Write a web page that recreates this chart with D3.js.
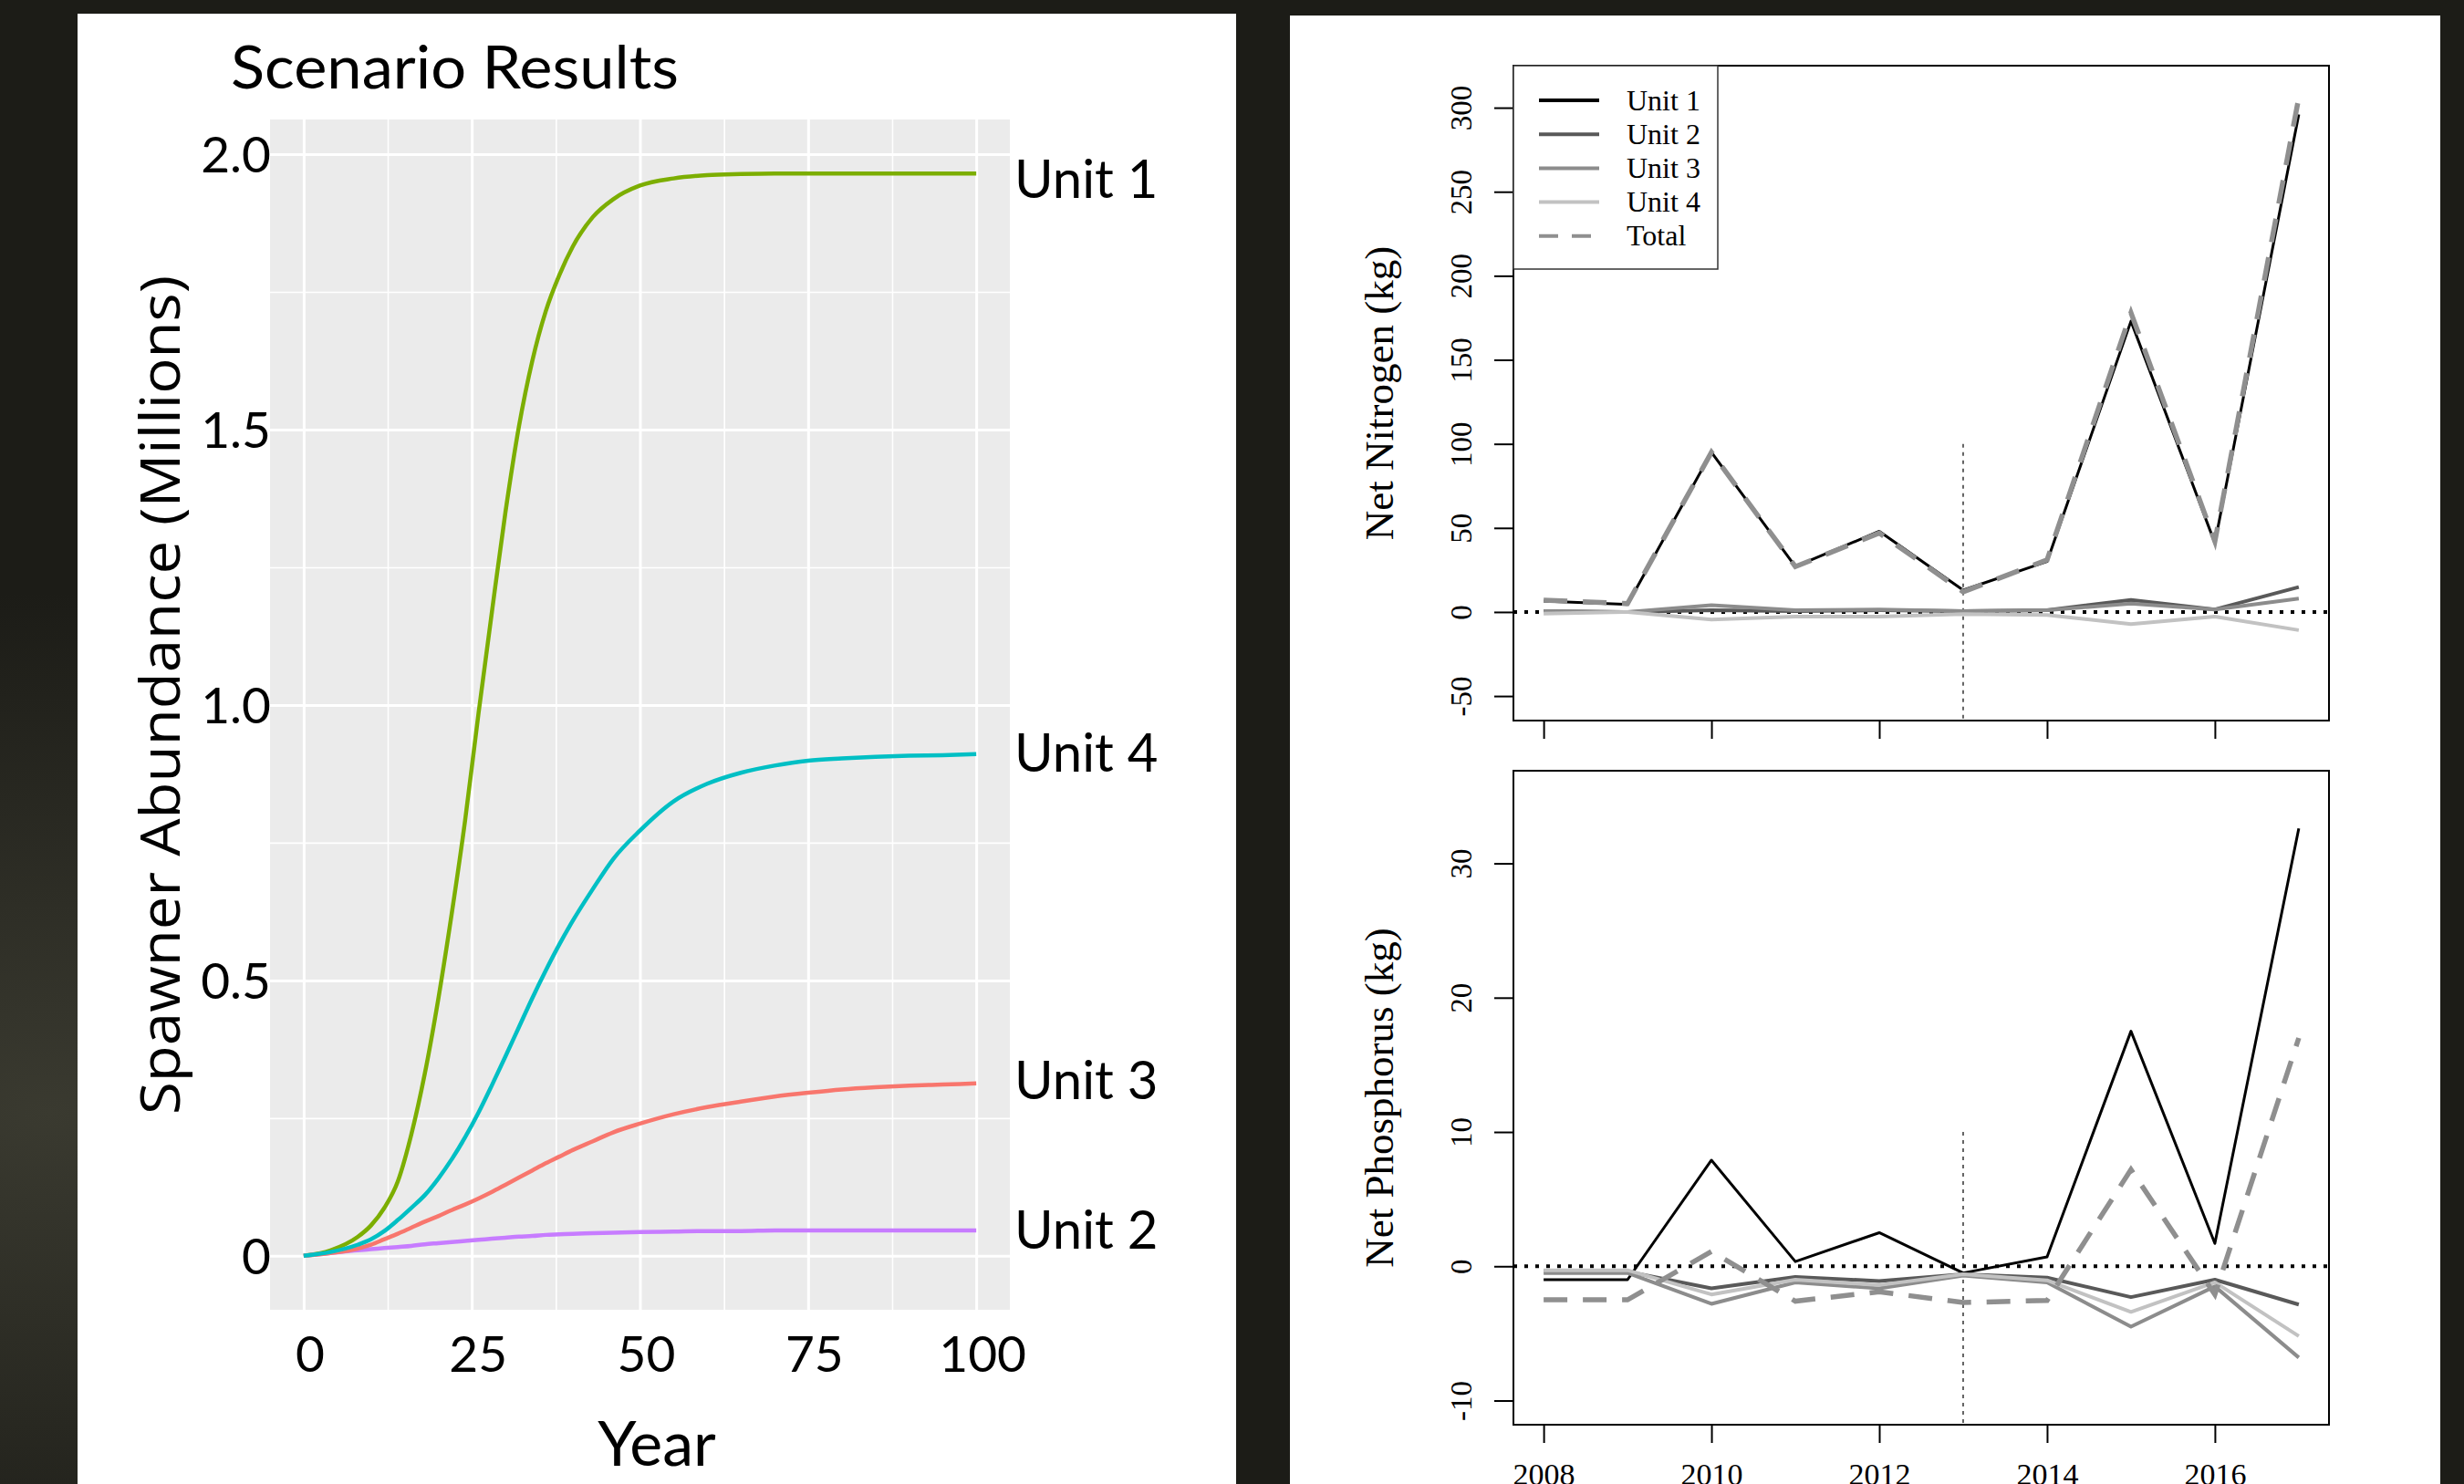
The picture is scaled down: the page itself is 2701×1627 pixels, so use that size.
<!DOCTYPE html>
<html>
<head>
<meta charset="utf-8">
<script src="https://cdn.jsdelivr.net/npm/d3@7"></script>
<style>
  html, body { margin: 0; padding: 0; background: #1c1c17; overflow: hidden; }
  svg { display: block; }
</style>
</head>
<body>
<svg id="chart" width="2701" height="1627"></svg>
<script>
// ---------- data: scenario results (left) ----------
const simYears = [0, 4, 8, 10, 12, 14, 16, 18, 20, 22, 24, 26, 28, 30, 32, 34, 36, 38, 40, 43, 46, 50, 55, 60, 65, 70, 75, 80, 85, 90, 95, 100];
const unit1Abund = [0, 0.01, 0.034, 0.055, 0.087, 0.135, 0.22, 0.33, 0.465, 0.62, 0.79, 0.985, 1.17, 1.35, 1.505, 1.625, 1.715, 1.78, 1.832, 1.886, 1.918, 1.943, 1.956, 1.962, 1.964, 1.965, 1.965, 1.965, 1.965, 1.965, 1.965, 1.965];
const unit2Abund = [0, 0.005, 0.01, 0.012, 0.014, 0.016, 0.018, 0.021, 0.023, 0.025, 0.027, 0.029, 0.031, 0.033, 0.035, 0.036, 0.038, 0.039, 0.04, 0.041, 0.042, 0.043, 0.044, 0.045, 0.045, 0.046, 0.046, 0.046, 0.046, 0.046, 0.046, 0.046];
const unit3Abund = [0, 0.005, 0.013, 0.02, 0.03, 0.04, 0.051, 0.062, 0.072, 0.083, 0.093, 0.104, 0.116, 0.129, 0.142, 0.155, 0.168, 0.18, 0.192, 0.208, 0.224, 0.24, 0.257, 0.27, 0.28, 0.289, 0.296, 0.302, 0.306, 0.309, 0.311, 0.313];
const unit4Abund = [0, 0.007, 0.02, 0.03, 0.045, 0.065, 0.087, 0.11, 0.14, 0.175, 0.215, 0.26, 0.31, 0.362, 0.415, 0.468, 0.518, 0.565, 0.608, 0.666, 0.72, 0.772, 0.825, 0.857, 0.877, 0.89, 0.899, 0.903, 0.906, 0.908, 0.909, 0.911];
const unitNames = ["Unit 1", "Unit 2", "Unit 3", "Unit 4"];
const unitColors = ["#7CAE00", "#C77CFF", "#F8766D", "#00BFC4"];
const xMajor = [0, 25, 50, 75, 100];
const xMinor = [12.5, 37.5, 62.5, 87.5];
const yMajor = [0, 0.5, 1.0, 1.5, 2.0];
const yMajorLabels = ["0", "0.5", "1.0", "1.5", "2.0"];
const yMinor = [0.25, 0.75, 1.25, 1.75];

// ---------- data: nutrient budgets (right) ----------
const budgetYears = [2008, 2009, 2010, 2011, 2012, 2013, 2014, 2015, 2016, 2017];
const nitroUnit1 = [6.5, 4.5, 95, 27, 48, 13, 30, 173, 41, 296];
const nitroUnit2 = [0.5, 0, 1, 0.5, 1, 0.5, 1, 7.2, 1.5, 14.8];
const nitroUnit3 = [0.5, 0, 4, 1, 1.5, 0.5, 1, 5, 1.5, 8];
const nitroUnit4 = [-1, 0, -4.5, -2.7, -2.7, -1.3, -1.8, -7.2, -2.7, -10.8];
const nitroTotal = [7, 5, 95, 27, 47, 12, 31, 178, 42, 306];
const phosUnit1 = [-1.0, -1.0, 7.9, 0.35, 2.5, -0.5, 0.7, 17.5, 1.7, 32.6];
const phosUnit2 = [-0.35, -0.4, -1.65, -0.8, -1.1, -0.6, -0.85, -2.3, -1.0, -2.85];
const phosUnit3 = [-0.5, -0.5, -2.8, -1.2, -1.65, -0.7, -1.2, -4.5, -1.5, -6.8];
const phosUnit4 = [-0.3, -0.3, -2.1, -1.0, -1.4, -0.6, -1.05, -3.4, -1.2, -5.2];
const phosTotal = [-2.5, -2.5, 1.1, -2.6, -1.9, -2.7, -2.55, 7.2, -2.1, 17.0];
const legendNames = ["Unit 1", "Unit 2", "Unit 3", "Unit 4", "Total"];
const nitroTicks = [-50, 0, 50, 100, 150, 200, 250, 300];
const phosTicks = [-10, 0, 10, 20, 30];
const yearTicks = [2008, 2010, 2012, 2014, 2016];

const svg = d3.select("#chart");
const W = 2701, H = 1627;

// dark slide background + white panels
const defs = svg.append("defs");
const glow = defs.append("radialGradient").attr("id", "glow").attr("cx", "0.02").attr("cy", "0.75").attr("r", "0.35");
glow.append("stop").attr("offset", "0").attr("stop-color", "#3a3a30");
glow.append("stop").attr("offset", "1").attr("stop-color", "#1c1c17");
svg.append("rect").attr("width", W).attr("height", H).attr("fill", "url(#glow)");
svg.append("rect").attr("x", 85).attr("y", 15).attr("width", 1270).attr("height", 1640).attr("fill", "#fff");
svg.append("rect").attr("x", 1414).attr("y", 17).attr("width", 1261).attr("height", 1640).attr("fill", "#fff");

// ================= left: Scenario Results =================
const pl = { x0: 296, x1: 1107, y0: 131, y1: 1436 };
const xL = d3.scaleLinear().domain([-5, 105]).range([pl.x0, pl.x1]);
const yL = d3.scaleLinear().domain([-0.098, 2.063]).range([pl.y1, pl.y0]);
const L = svg.append("g").style("font-family", "Lato, 'Open Sans', sans-serif");

L.append("rect")
  .attr("x", pl.x0).attr("y", pl.y0)
  .attr("width", pl.x1 - pl.x0).attr("height", pl.y1 - pl.y0)
  .attr("fill", "#EBEBEB");

function grid(axis, transform, width) {
  L.append("g")
    .attr("transform", transform)
    .call(axis.tickFormat("").tickSizeOuter(0))
    .call(g => g.select(".domain").remove())
    .selectAll("line").attr("stroke", "#fff").attr("stroke-width", width);
}
grid(d3.axisBottom(xL).tickValues(xMinor).tickSize(-(pl.y1 - pl.y0)), `translate(0,${pl.y1})`, 1.6);
grid(d3.axisLeft(yL).tickValues(yMinor).tickSize(-(pl.x1 - pl.x0)), `translate(${pl.x0},0)`, 1.6);
grid(d3.axisBottom(xL).tickValues(xMajor).tickSize(-(pl.y1 - pl.y0)), `translate(0,${pl.y1})`, 3);
grid(d3.axisLeft(yL).tickValues(yMajor).tickSize(-(pl.x1 - pl.x0)), `translate(${pl.x0},0)`, 3);

const seriesL = [unit1Abund, unit2Abund, unit3Abund, unit4Abund];
const labelShift = [7, 0, -3, 0];
const lineL = d3.line().x(d => xL(d[0])).y(d => yL(d[1])).curve(d3.curveMonotoneX);
seriesL.forEach((vals, i) => {
  L.append("path")
    .datum(simYears.map((yr, k) => [yr, vals[k]]))
    .attr("d", lineL)
    .attr("fill", "none")
    .attr("stroke", unitColors[i])
    .attr("stroke-width", 4.5);
  L.append("text")
    .attr("x", pl.x1 + 5)
    .attr("y", yL(vals[vals.length - 1]) + labelShift[i])
    .attr("dy", "0.34em")
    .attr("font-size", 58)
    .attr("fill", "#000")
    .text(unitNames[i]);
});

// axis labels
L.selectAll(".ylab").data(yMajor).enter().append("text")
  .attr("x", pl.x0 + 1)
  .attr("y", d => yL(d))
  .attr("dy", "0.36em")
  .attr("text-anchor", "end")
  .attr("font-size", 55)
  .text((d, i) => yMajorLabels[i]);
L.selectAll(".xlab").data(xMajor).enter().append("text")
  .attr("x", d => xL(d) + 7)
  .attr("y", 1504)
  .attr("text-anchor", "middle")
  .attr("font-size", 55)
  .text(d => d);

L.append("text")
  .attr("x", 253).attr("y", 97)
  .attr("font-size", 66)
  .attr("textLength", 491).attr("lengthAdjust", "spacingAndGlyphs")
  .text("Scenario Results");
L.append("text")
  .attr("x", 720).attr("y", 1607)
  .attr("text-anchor", "middle")
  .attr("font-size", 68)
  .text("Year");
L.append("text")
  .attr("transform", "translate(197,762) rotate(-90)")
  .attr("text-anchor", "middle")
  .attr("font-size", 60)
  .style("font-family", "'Open Sans', sans-serif")
  .attr("textLength", 920).attr("lengthAdjust", "spacingAndGlyphs")
  .text("Spawner Abundance (Millions)");

// ================= right: nutrient plots =================
const bx = { x0: 1659, x1: 2553 };
const xR = d3.scaleLinear().domain([2007.64, 2017.36]).range([bx.x0, bx.x1]);
const R = svg.append("g").style("font-family", "'Liberation Serif', 'Times New Roman', serif");
const grays = ["#000000", "#595959", "#8c8c8c", "#c2c2c2"];
const widths = [3, 4, 4, 4];

function budgetPlot(yScale, top, bottom, ticks, title, units, total, vlineTop, showYears) {
  const g = R.append("g");
  const clipId = "clip" + top;
  defs.append("clipPath").attr("id", clipId).append("rect")
    .attr("x", bx.x0).attr("y", top).attr("width", bx.x1 - bx.x0).attr("height", bottom - top);
  const inner = g.append("g").attr("clip-path", `url(#${clipId})`);

  // zero reference and 2013 marker
  inner.append("line")
    .attr("x1", bx.x0).attr("x2", bx.x1)
    .attr("y1", yScale(0)).attr("y2", yScale(0))
    .attr("stroke", "#000").attr("stroke-width", 4).attr("stroke-dasharray", "4 8");
  inner.append("line")
    .attr("x1", xR(2013)).attr("x2", xR(2013))
    .attr("y1", yScale(vlineTop)).attr("y2", bottom)
    .attr("stroke", "#333").attr("stroke-width", 1.5).attr("stroke-dasharray", "4 5");

  const line = d3.line().x((d, i) => xR(budgetYears[i])).y(d => yScale(d));
  units.forEach((vals, i) => {
    inner.append("path").datum(vals).attr("d", line)
      .attr("fill", "none").attr("stroke", grays[i]).attr("stroke-width", widths[i])
      .attr("stroke-linejoin", "round");
  });
  inner.append("path").datum(total).attr("d", line)
    .attr("fill", "none").attr("stroke", "#8f8f8f").attr("stroke-width", 5.5)
    .attr("stroke-dasharray", "26 17");

  // box
  g.append("rect")
    .attr("x", bx.x0).attr("y", top).attr("width", bx.x1 - bx.x0).attr("height", bottom - top)
    .attr("fill", "none").attr("stroke", "#000").attr("stroke-width", 2);

  // y axis
  g.append("g")
    .attr("transform", `translate(${bx.x0},0)`)
    .call(d3.axisLeft(yScale).tickValues(ticks).tickSize(21).tickSizeOuter(0).tickFormat(d => String(d)))
    .call(a => a.select(".domain").remove())
    .call(a => a.selectAll("line").attr("stroke", "#000").attr("stroke-width", 2))
    .call(a => a.selectAll("text")
      .attr("x", null).attr("dy", "0.33em")
      .attr("text-anchor", "middle")
      .attr("transform", "translate(-57,0) rotate(-90)")
      .attr("fill", "#000")
      .style("font-size", "33px")
      .style("font-family", "'Liberation Serif', serif"));

  // x axis
  g.append("g")
    .attr("transform", `translate(0,${bottom})`)
    .call(d3.axisBottom(xR).tickValues(yearTicks).tickSize(20).tickPadding(22).tickSizeOuter(0)
      .tickFormat(showYears ? d => String(d) : ""))
    .call(a => a.select(".domain").remove())
    .call(a => a.selectAll("line").attr("stroke", "#000").attr("stroke-width", 2))
    .call(a => a.selectAll("text").attr("fill", "#000")
      .style("font-size", "34px").style("font-family", "'Liberation Serif', serif"));

  g.append("text")
    .attr("transform", `translate(1527,${(top + bottom) / 2}) rotate(-90)`)
    .attr("text-anchor", "middle")
    .attr("font-size", 45)
    .text(title);
  return g;
}

const yN = d3.scaleLinear().domain([-64.6, 325]).range([790, 72]);
const yP = d3.scaleLinear().domain([-11.8, 36.9]).range([1562, 845]);
const topPlot = budgetPlot(yN, 72, 790, nitroTicks, "Net Nitrogen (kg)",
  [nitroUnit1, nitroUnit2, nitroUnit3, nitroUnit4], nitroTotal, 100, false);
budgetPlot(yP, 845, 1562, phosTicks, "Net Phosphorus (kg)",
  [phosUnit1, phosUnit2, phosUnit3, phosUnit4], phosTotal, 10, true);

// legend (top plot)
const lg = topPlot.append("g");
lg.append("rect")
  .attr("x", bx.x0).attr("y", 72).attr("width", 224).attr("height", 223)
  .attr("fill", "#fff").attr("stroke", "#333").attr("stroke-width", 1.5);
legendNames.forEach((name, i) => {
  const y = 110 + i * 37.2;
  lg.append("line")
    .attr("x1", 1687).attr("x2", 1753).attr("y1", y).attr("y2", y)
    .attr("stroke", i < 4 ? grays[i] : "#8f8f8f")
    .attr("stroke-width", 4)
    .attr("stroke-dasharray", i < 4 ? null : "21 15");
  lg.append("text")
    .attr("x", 1783).attr("y", y).attr("dy", "0.33em")
    .attr("font-size", 32)
    .text(name);
});
</script>
</body>
</html>
